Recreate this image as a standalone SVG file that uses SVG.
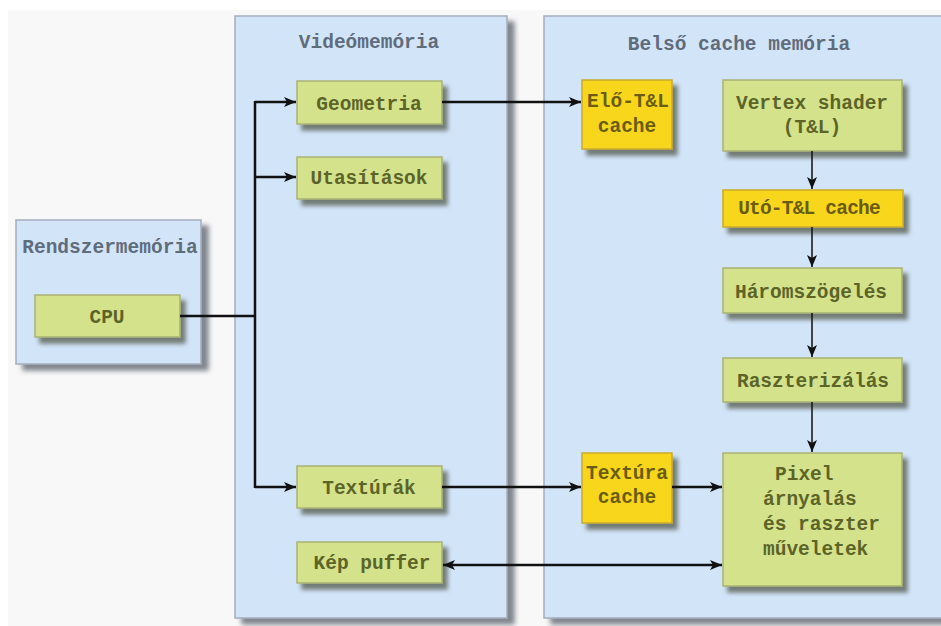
<svg xmlns="http://www.w3.org/2000/svg" width="941" height="626" viewBox="0 0 941 626">
<defs>
<filter id="sh" x="-10%" y="-10%" width="130%" height="140%">
<feDropShadow dx="5" dy="6" stdDeviation="2.2" flood-color="#4a5040" flood-opacity="0.7"/>
</filter>
<filter id="psh" x="-10%" y="-10%" width="130%" height="130%">
<feDropShadow dx="7" dy="6" stdDeviation="2.5" flood-color="#585e6c" flood-opacity="0.75"/>
</filter>
<marker id="ah" viewBox="0 0 12 10" refX="12" refY="5" markerWidth="12" markerHeight="10" markerUnits="userSpaceOnUse" orient="auto-start-reverse">
<path d="M0,0 L12,5 L0,10 L3,5 Z" fill="#111"/>
</marker>
</defs>
<style>
.panel{fill:#d2e4f8;stroke:#a4adbd;stroke-width:1.5;filter:url(#psh)}
.g{fill:#d4e28c;stroke:#a9b274;stroke-width:1.5;filter:url(#sh)}
.y{fill:#f8d61c;stroke:#c9ab2a;stroke-width:1.5;filter:url(#sh)}
.title{font-family:"Liberation Mono","DejaVu Sans Mono",monospace;font-size:19.5px;fill:#5f6c7c;text-anchor:middle;font-weight:bold}
.t{font-family:"Liberation Mono","DejaVu Sans Mono",monospace;font-size:19.5px;fill:#5c6428;text-anchor:middle;font-weight:bold}
.ty{font-family:"Liberation Mono","DejaVu Sans Mono",monospace;font-size:19.5px;fill:#6a5c12;text-anchor:middle;font-weight:bold}
.bus{fill:none;stroke:#111;stroke-width:2.5}
.thin{fill:none;stroke:#111;stroke-width:1.5}
</style>
<rect x="0" y="0" width="941" height="626" fill="#ffffff"/>
<rect x="8" y="10" width="933" height="616" fill="#f8f8f8"/>

<g id="rendszermemoria">
<rect class="panel" x="16" y="220" width="185" height="144"/>
<text class="title" x="110" y="253">Rendszermemória</text>
</g>
<g id="videomemoria">
<rect class="panel" x="235" y="16" width="272" height="602"/>
<text class="title" x="369" y="48">Videómemória</text>
</g>
<g id="belso-cache">
<rect class="panel" x="544" y="16" width="420" height="602"/>
<text class="title" x="739" y="50">Belső cache memória</text>
</g>

<g id="cpu">
<rect class="g" x="35" y="295" width="145" height="42"/>
<text class="t" x="107" y="323">CPU</text>
</g>
<g id="geometria">
<rect class="g" x="297" y="81" width="145" height="43"/>
<text class="t" x="369" y="110">Geometria</text>
</g>
<g id="utasitasok">
<rect class="g" x="297" y="157" width="145" height="42"/>
<text class="t" x="369" y="184">Utasítások</text>
</g>
<g id="texturak">
<rect class="g" x="297" y="466" width="145" height="42"/>
<text class="t" x="369" y="494">Textúrák</text>
</g>
<g id="kep-puffer">
<rect class="g" x="297" y="542" width="145" height="41"/>
<text class="t" x="372" y="569">Kép puffer</text>
</g>
<g id="elo-tl-cache">
<rect class="y" x="582" y="80" width="90" height="69"/>
<text class="ty" x="628" y="107">Elő-T&amp;L</text>
<text class="ty" x="627" y="132">cache</text>
</g>
<g id="vertex-shader">
<rect class="g" x="723" y="80" width="179" height="71"/>
<text class="t" x="812" y="109">Vertex shader</text>
<text class="t" x="812" y="133">(T&amp;L)</text>
</g>
<g id="uto-tl-cache">
<rect class="y" x="723" y="190" width="180" height="37"/>
<text class="ty" x="809" y="214" style="letter-spacing:-0.8px">Utó-T&amp;L cache</text>
</g>
<g id="haromszogeles">
<rect class="g" x="723" y="268" width="179" height="45"/>
<text class="t" x="811" y="298">Háromszögelés</text>
</g>
<g id="raszterizalas">
<rect class="g" x="723" y="358" width="179" height="44"/>
<text class="t" x="813" y="387">Raszterizálás</text>
</g>
<g id="textura-cache">
<rect class="y" x="582" y="453" width="90" height="70"/>
<text class="ty" x="627" y="479">Textúra</text>
<text class="ty" x="627" y="503">cache</text>
</g>
<g id="pixel">
<rect class="g" x="723" y="453" width="179" height="133"/>
<text class="t" x="775" y="480" style="text-anchor:start">Pixel</text>
<text class="t" x="763" y="505" style="text-anchor:start">árnyalás</text>
<text class="t" x="763" y="530" style="text-anchor:start">és raszter</text>
<text class="t" x="763" y="555" style="text-anchor:start">műveletek</text>
</g>

<g id="connectors">
<path class="bus" d="M180,316 H255"/>
<path class="bus" d="M255,101 V488"/>
<path class="bus" d="M255,102 H296" marker-end="url(#ah)"/>
<path class="bus" d="M255,177 H296" marker-end="url(#ah)"/>
<path class="bus" d="M255,487 H296" marker-end="url(#ah)"/>
<path class="bus" d="M442,102 H581" marker-end="url(#ah)"/>
<path class="bus" d="M442,487 H581" marker-end="url(#ah)"/>
<path class="bus" d="M672,487 H722" marker-end="url(#ah)"/>
<path class="bus" d="M443,565 H722" marker-start="url(#ah)" marker-end="url(#ah)"/>
<path class="thin" d="M812,151 V189" marker-end="url(#ah)"/>
<path class="thin" d="M812,227 V267" marker-end="url(#ah)"/>
<path class="thin" d="M812,313 V357" marker-end="url(#ah)"/>
<path class="thin" d="M812,402 V452" marker-end="url(#ah)"/>
</g>
</svg>
